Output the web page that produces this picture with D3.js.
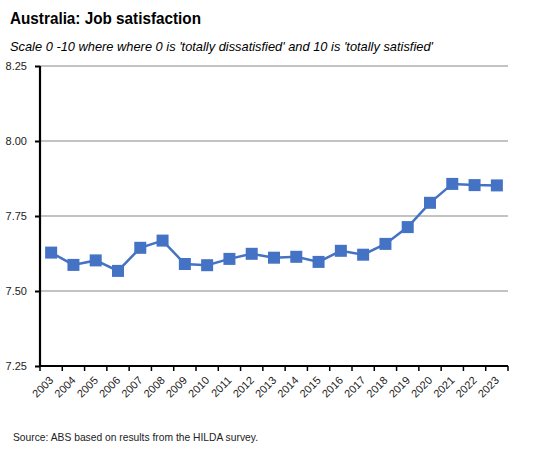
<!DOCTYPE html>
<html><head><meta charset="utf-8">
<script src="https://cdn.jsdelivr.net/npm/d3@7"></script>
<style>body{margin:0;background:#fff}svg{display:block}text{font-family:"Liberation Sans",Arial,sans-serif}</style>
</head><body><svg id="c" width="548" height="454"></svg>
<script>
const years = ["2003","2004","2005","2006","2007","2008","2009","2010","2011","2012","2013","2014","2015","2016","2017","2018","2019","2020","2021","2022","2023"];
const satisfaction = [7.628,7.587,7.602,7.567,7.644,7.668,7.590,7.586,7.607,7.624,7.611,7.614,7.597,7.634,7.621,7.657,7.713,7.794,7.857,7.853,7.852];
const yTicks = [7.25,7.50,7.75,8.00,8.25];

const svg = d3.select("#c");
const m = {l:40, r:508, t:66, b:366};
const x = d3.scaleBand().domain(years).range([m.l, m.r]);
const y = d3.scaleLinear().domain([7.25, 8.25]).range([m.b, m.t]);

svg.append("text").attr("x",10).attr("y",24).attr("font-weight","bold").attr("font-size",16.5)
  .attr("textLength",191).attr("lengthAdjust","spacingAndGlyphs").text("Australia: Job satisfaction");
svg.append("text").attr("x",10).attr("y",51).attr("font-style","italic").attr("font-size",13)
  .attr("textLength",423).attr("lengthAdjust","spacingAndGlyphs")
  .text("Scale 0 -10 where where 0 is 'totally dissatisfied' and 10 is 'totally satisfied'");

// gridlines
svg.append("g").selectAll("line").data(yTicks.filter(d=>d>7.25)).join("line")
  .attr("x1",m.l).attr("x2",m.r).attr("y1",d=>y(d)).attr("y2",d=>y(d))
  .attr("stroke","#888").attr("stroke-width",1.2);

// y axis
const ya = svg.append("g").attr("transform",`translate(${m.l},0)`)
  .call(d3.axisLeft(y).tickValues(yTicks).tickFormat(d3.format(".2f")).tickSize(5).tickPadding(8));
ya.select(".domain").attr("stroke","#000").attr("stroke-width",2.2).attr("d",`M0,${m.t}V${m.b}`);
ya.selectAll(".tick line").attr("stroke","#000").attr("stroke-width",2);
ya.selectAll(".tick text").attr("font-size",11).attr("fill","#222").attr("font-family","Liberation Sans, Arial, sans-serif");

// x axis
const xa = svg.append("g").attr("transform",`translate(0,${m.b})`)
  .call(d3.axisBottom(x).tickSize(0).tickPadding(0));
xa.select(".domain").attr("stroke","#000").attr("stroke-width",2.2).attr("d",`M${m.l},0H${m.r}`);
xa.selectAll(".tick text").attr("font-size",11).attr("fill","#222").attr("font-family","Liberation Sans, Arial, sans-serif")
  .attr("text-anchor","end").attr("dy",null).attr("y",0)
  .attr("transform","translate(3,15) rotate(-45)");
// category boundary ticks
svg.append("g").selectAll("line").data(years.concat(["end"])).join("line")
  .attr("x1",(d,i)=>m.l + i*x.step()).attr("x2",(d,i)=>m.l + i*x.step())
  .attr("y1",m.b).attr("y2",m.b+5).attr("stroke","#000").attr("stroke-width",1.5);

// line
const cx = d => x(d) + x.bandwidth()/2;
svg.append("path").datum(years.map((d,i)=>[d,satisfaction[i]]))
  .attr("fill","none").attr("stroke","#4472C4").attr("stroke-width",2.5)
  .attr("d", d3.line().x(d=>cx(d[0])).y(d=>y(d[1])));
svg.append("g").selectAll("rect").data(years).join("rect")
  .attr("x",d=>cx(d)-6).attr("y",(d,i)=>y(satisfaction[i])-6).attr("width",12).attr("height",12)
  .attr("fill","#4472C4");

svg.append("text").attr("x",13).attr("y",441).attr("font-size",11).attr("fill","#222")
  .attr("textLength",245).attr("lengthAdjust","spacingAndGlyphs")
  .text("Source: ABS based on results from the HILDA survey.");
</script></body></html>
